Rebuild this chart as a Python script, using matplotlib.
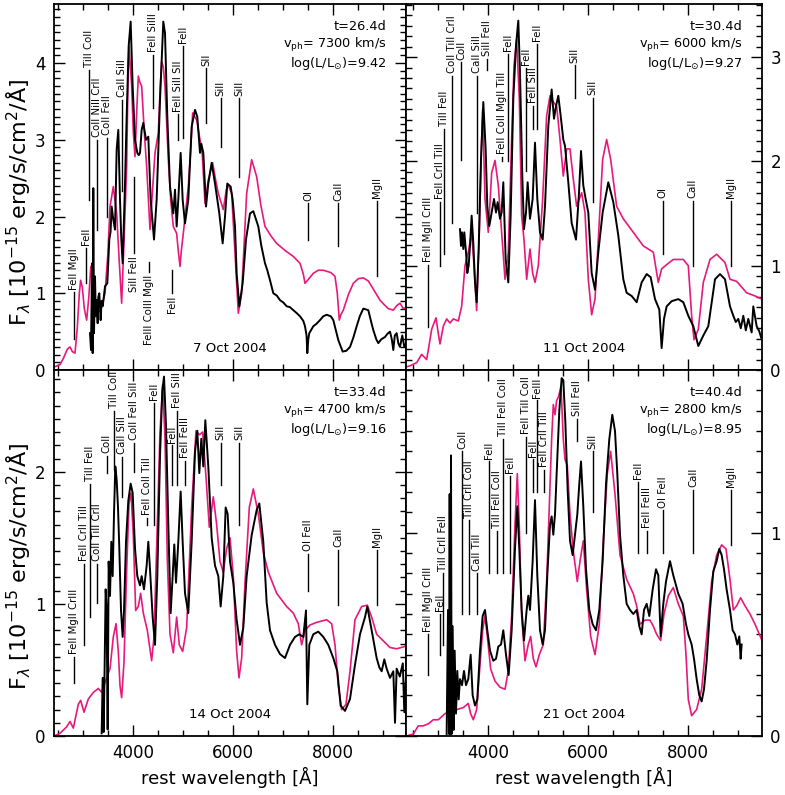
import matplotlib
matplotlib.use("Agg")
import matplotlib.pyplot as plt
from matplotlib.ticker import MultipleLocator

PINK = "#e8197c"

# ---------------- 7 Oct 2004 (t=26.4d) ----------------
oct07_obs_wl = [3134, 3154, 3174, 3187, 3200, 3214, 3234, 3250, 3267, 3287, 3300, 3320, 3347, 3365, 3387,
                3410, 3434, 3480, 3520, 3545, 3567, 3600, 3634, 3667, 3700, 3734, 3760, 3787, 3834, 3867,
                3907, 3947, 3987, 4034, 4060, 4080, 4110, 4134, 4167, 4200, 4254, 4300, 4347, 4414, 4467,
                4534, 4600, 4634, 4680, 4734, 4800, 4834, 4867, 4900, 4947, 4987, 5034, 5100, 5167, 5234,
                5280, 5334, 5360, 5400, 5454, 5500, 5567, 5634, 5720, 5787, 5834, 5880, 5947, 5987, 6034,
                6067, 6120, 6187, 6254, 6334, 6400, 6500, 6560, 6634, 6680, 6734, 6800, 6870, 6934, 7000,
                7067, 7130, 7200, 7270, 7334, 7400, 7434, 7465, 7480, 7500, 7520, 7600, 7660, 7734, 7800,
                7867, 7950, 8000, 8100, 8187, 8260, 8334, 8400, 8467, 8530, 8600, 8700, 8760, 8800, 8860,
                8900, 8960, 9034, 9080, 9134, 9170, 9200, 9230, 9267, 9300, 9334, 9380, 9420, 9460]
oct07_obs_f = [0.48, 0.26, 1.39, 0.22, 2.37, 0.48, 1.22, 0.70, 0.91, 0.61, 0.95, 1.00, 0.65, 0.90, 0.83,
               0.95, 1.09, 1.13, 1.70, 1.80, 2.13, 1.96, 1.83, 2.87, 3.13, 2.22, 1.70, 1.39, 2.43, 3.30,
               4.22, 4.54, 3.70, 3.00, 2.90, 2.83, 2.80, 2.83, 3.13, 3.22, 3.00, 3.04, 2.22, 1.70, 2.22,
               3.52, 4.54, 4.39, 3.30, 2.39, 2.04, 2.35, 1.87, 2.22, 2.83, 2.22, 1.91, 2.22, 3.17, 3.39,
               3.30, 2.83, 2.95, 2.83, 2.13, 2.43, 2.70, 2.43, 2.04, 1.65, 2.00, 2.43, 2.39, 2.22, 1.87,
               1.26, 0.83, 1.13, 1.70, 2.04, 2.07, 1.87, 1.62, 1.39, 1.30, 1.17, 1.00, 0.97, 0.91, 0.88,
               0.83, 0.82, 0.78, 0.74, 0.70, 0.64, 0.57, 0.45, 0.22, 0.40, 0.48, 0.57, 0.60, 0.65, 0.70,
               0.72, 0.70, 0.65, 0.39, 0.24, 0.25, 0.30, 0.42, 0.57, 0.70, 0.80, 0.78, 0.62, 0.52, 0.40,
               0.35, 0.40, 0.43, 0.47, 0.50, 0.40, 0.26, 0.45, 0.48, 0.35, 0.30, 0.45, 0.30, 0.35]
oct07_mod_wl = [2420, 2534, 2600, 2680, 2734, 2780, 2834, 2880, 2920, 2947, 2980, 3020, 3067, 3110, 3150,
                3190, 3230, 3267, 3334, 3390, 3434, 3490, 3534, 3600, 3667, 3720, 3767, 3810, 3867, 3890,
                3914, 3967, 4000, 4034, 4070, 4100, 4130, 4167, 4220, 4267, 4334, 4380, 4434, 4500, 4540,
                4567, 4600, 4634, 4700, 4750, 4800, 4867, 4900, 4934, 4960, 5000, 5100, 5150, 5187, 5230,
                5267, 5334, 5380, 5434, 5500, 5587, 5640, 5700, 5800, 5860, 5900, 5967, 6034, 6100, 6167,
                6267, 6367, 6467, 6550, 6634, 6750, 6867, 7050, 7200, 7334, 7400, 7434, 7500, 7600, 7700,
                7800, 7950, 8034, 8080, 8120, 8150, 8200, 8300, 8400, 8500, 8600, 8700, 8767, 8850, 8934,
                9020, 9100, 9200, 9270, 9334, 9400, 9460]
oct07_mod_f = [0.04, 0.07, 0.15, 0.27, 0.30, 0.24, 0.22, 0.55, 1.00, 1.17, 1.08, 0.80, 0.65, 0.95, 1.35,
               1.20, 0.90, 0.78, 0.76, 0.88, 1.00, 1.50, 2.13, 2.39, 2.04, 1.40, 0.87, 1.60, 2.65, 3.60,
               4.22, 3.70, 3.10, 2.78, 3.40, 3.83, 3.75, 3.70, 3.10, 2.65, 1.83, 2.30, 2.83, 3.09, 3.70,
               4.02, 3.95, 3.70, 2.74, 2.20, 1.87, 1.78, 1.55, 1.35, 1.55, 1.78, 2.39, 2.90, 3.35, 3.30,
               3.26, 3.00, 2.80, 2.17, 2.48, 2.70, 2.50, 2.30, 2.09, 2.35, 2.41, 2.30, 1.52, 0.74, 1.00,
               2.30, 2.74, 2.52, 2.15, 1.87, 1.75, 1.65, 1.55, 1.48, 1.39, 1.25, 1.13, 1.18, 1.26, 1.30,
               1.30, 1.27, 1.22, 1.00, 0.65, 0.72, 0.78, 0.98, 1.13, 1.19, 1.20, 1.16, 1.09, 1.00, 0.91,
               0.85, 0.80, 0.78, 0.84, 0.87, 0.80, 0.82]
# (label, wavelength, lower end, upper end, text side)
oct07_ids = [("FeII MgII", 2814, 0.41, 1.01, "up"), ("FeII", 3054, 1.13, 1.59, "up"),
             ("TiII CoII", 3121, 2.22, 3.91, "up"), ("CoII NiII CrII", 3274, 1.83, 3.00, "up"),
             ("CoII FeII", 3467, 2.00, 3.02, "up"), ("CaII SiII", 3781, 2.33, 3.52, "up"),
             ("FeII SiIII", 4401, 3.41, 4.11, "up"), ("FeII SiII SII", 4887, 3.00, 3.33, "up"),
             ("FeII", 5001, 3.02, 4.22, "up"), ("SII", 5454, 3.22, 3.93, "up"),
             ("SiII", 5747, 2.91, 3.54, "up"), ("SiII", 6114, 2.52, 3.54, "up"),
             ("OI", 7501, 1.70, 2.17, "up"), ("CaII", 8101, 1.61, 2.17, "up"),
             ("MgII", 8868, 1.22, 2.20, "up"),
             ("SiII FeII", 4014, 1.52, 2.52, "down"), ("FeIII CoIII MgII", 4321, 1.28, 1.41, "down"),
             ("FeII", 4781, 1.00, 1.30, "down")]

# ---------------- 11 Oct 2004 (t=30.4d) ----------------
oct11_obs_wl = [3434, 3454, 3474, 3500, 3520, 3554, 3580, 3607, 3634, 3667, 3700, 3734, 3767, 3807, 3854,
                3900, 3947, 3980, 4020, 4067, 4114, 4154, 4187, 4234, 4267, 4300, 4347, 4400, 4447, 4500,
                4554, 4600, 4634, 4680, 4714, 4754, 4787, 4834, 4887, 4934, 4980, 5034, 5087, 5134, 5200,
                5267, 5314, 5354, 5400, 5447, 5500, 5534, 5600, 5667, 5754, 5814, 5854, 5900, 5947, 6000,
                6067, 6134, 6200, 6287, 6400, 6500, 6600, 6700, 6767, 6867, 6967, 7067, 7167, 7247, 7334,
                7420, 7467, 7514, 7567, 7667, 7800, 7900, 8000, 8100, 8200, 8300, 8400, 8534, 8634, 8734,
                8834, 8900, 8950, 9000, 9050, 9100, 9150, 9200, 9267, 9300, 9367, 9420, 9470]
oct11_obs_f = [1.35, 1.19, 1.32, 1.16, 1.32, 1.13, 0.93, 1.00, 1.19, 1.48, 1.22, 0.84, 0.65, 1.16, 2.02,
               2.57, 2.12, 1.57, 1.38, 1.51, 1.64, 1.51, 1.61, 1.45, 1.51, 1.80, 1.06, 0.84, 1.48, 2.60,
               3.11, 3.35, 2.85, 1.86, 1.35, 1.51, 1.80, 1.45, 1.64, 2.18, 1.64, 1.32, 1.25, 1.57, 2.34,
               2.69, 2.41, 2.53, 2.63, 2.44, 2.21, 2.15, 1.80, 1.41, 1.25, 1.70, 2.10, 1.77, 1.64, 1.51,
               0.93, 0.77, 1.13, 1.51, 1.80, 1.61, 1.29, 0.87, 0.74, 0.71, 0.65, 0.84, 0.92, 0.89, 0.68,
               0.58, 0.21, 0.49, 0.61, 0.66, 0.68, 0.65, 0.52, 0.42, 0.23, 0.33, 0.42, 0.87, 0.92, 0.87,
               0.61, 0.52, 0.46, 0.49, 0.40, 0.52, 0.38, 0.49, 0.36, 0.61, 0.42, 0.37, 0.29]
oct11_mod_wl = [2360, 2434, 2567, 2667, 2767, 2820, 2867, 2954, 3000, 3034, 3100, 3167, 3234, 3300, 3400,
                3467, 3534, 3600, 3667, 3714, 3767, 3820, 3860, 3887, 3934, 4000, 4067, 4134, 4200, 4267,
                4334, 4400, 4467, 4514, 4567, 4620, 4667, 4714, 4767, 4834, 4887, 4934, 5000, 5087, 5167,
                5234, 5300, 5367, 5434, 5500, 5567, 5634, 5700, 5767, 5867, 5934, 6000, 6067, 6134, 6200,
                6287, 6367, 6447, 6567, 6700, 6900, 7100, 7300, 7400, 7467, 7567, 7700, 7900, 8000, 8067,
                8114, 8200, 8300, 8434, 8567, 8734, 8834, 8967, 9167, 9334, 9470]
oct11_mod_f = [0.03, 0.04, 0.07, 0.15, 0.10, 0.25, 0.39, 0.50, 0.35, 0.25, 0.42, 0.49, 0.45, 0.49, 0.47,
               0.61, 1.00, 1.13, 1.32, 1.00, 0.57, 1.32, 2.10, 2.50, 1.64, 1.32, 1.89, 2.01, 1.77, 1.32,
               0.87, 1.13, 2.21, 2.92, 3.17, 2.60, 1.48, 1.25, 0.87, 1.16, 0.93, 0.84, 1.00, 1.64, 2.44,
               2.63, 2.57, 2.53, 2.21, 1.86, 2.12, 2.12, 1.83, 1.57, 1.70, 1.51, 0.87, 0.53, 0.68, 1.25,
               2.02, 2.21, 2.02, 1.57, 1.45, 1.32, 1.19, 1.13, 0.84, 0.97, 1.01, 1.06, 1.06, 1.00, 0.52,
               0.29, 0.39, 0.84, 1.06, 1.11, 1.03, 0.87, 0.85, 0.74, 0.71, 0.68]
oct11_ids = [("FeII MgII CrIII", 2787, 0.41, 1.01, "up"), ("FeII CrII TiII", 3034, 1.00, 1.61, "up"),
             ("TiII FeII", 3121, 1.11, 2.31, "up"), ("CoII TiII CrII", 3267, 1.41, 2.82, "up"),
             ("CoII", 3454, 2.01, 2.95, "up"), ("CaII SiII", 3767, 1.51, 2.82, "up"),
             ("SiII FeII", 3981, 2.88, 2.98, "up"), ("FeII CoII MgII TiII", 4281, 2.00, 2.04, "up"),
             ("FeII", 4401, 2.00, 3.03, "up"), ("FeII", 4754, 1.91, 2.90, "up"),
             ("FeII SiII", 4887, 2.31, 2.53, "up"), ("FeII", 4981, 2.31, 3.13, "up"),
             ("SiII", 5727, 2.61, 2.92, "up"), ("SiII", 6087, 1.61, 2.61, "up"),
             ("OI", 7487, 1.11, 1.62, "up"), ("CaII", 8087, 1.00, 1.62, "up"),
             ("MgII", 8854, 1.00, 1.62, "up")]

# ---------------- 14 Oct 2004 (t=33.4d) ----------------
oct14_obs_wl = [3367, 3387, 3407, 3427, 3447, 3467, 3487, 3507, 3534, 3560, 3587, 3614, 3640, 3667, 3694,
                3720, 3754, 3787, 3814, 3854, 3900, 3947, 3987, 4034, 4080, 4134, 4167, 4214, 4267, 4300,
                4334, 4387, 4434, 4480, 4534, 4580, 4614, 4654, 4700, 4747, 4787, 4820, 4854, 4900, 4947,
                4987, 5034, 5100, 5167, 5234, 5280, 5320, 5360, 5400, 5440, 5500, 5567, 5634, 5700, 5747,
                5800, 5847, 5887, 5934, 6000, 6067, 6134, 6200, 6267, 6367, 6467, 6520, 6600, 6667, 6734,
                6834, 6934, 7034, 7134, 7234, 7320, 7400, 7454, 7480, 7520, 7600, 7700, 7800, 7900, 8000,
                8080, 8147, 8234, 8334, 8434, 8534, 8634, 8680, 8767, 8867, 8920, 8967, 9020, 9067, 9134,
                9200, 9234, 9267, 9330, 9390, 9420, 9454]
oct14_obs_f = [0.02, 0.44, 0.03, 0.54, 1.11, 0.95, 0.05, 1.32, 1.06, 1.47, 1.21, 1.68, 2.04, 1.94, 1.73,
               1.42, 0.95, 0.75, 0.95, 1.47, 1.78, 1.91, 1.84, 1.42, 1.21, 1.14, 1.21, 1.11, 1.29, 1.47,
               1.26, 0.90, 0.69, 1.21, 2.12, 2.61, 2.72, 2.35, 1.60, 0.93, 1.21, 1.45, 1.16, 1.47, 1.85,
               1.47, 1.08, 0.93, 1.47, 2.15, 2.31, 1.99, 2.25, 2.04, 2.39, 2.04, 1.50, 1.29, 1.21, 0.98,
               1.21, 1.73, 1.68, 1.32, 1.16, 0.88, 0.69, 0.82, 1.21, 1.52, 1.71, 1.76, 1.47, 1.01, 0.80,
               0.69, 0.62, 0.59, 0.69, 0.75, 0.77, 0.75, 0.95, 0.24, 0.69, 0.77, 0.79, 0.75, 0.69, 0.59,
               0.49, 0.23, 0.19, 0.28, 0.54, 0.77, 0.90, 0.98, 0.80, 0.59, 0.52, 0.49, 0.58, 0.51, 0.44,
               0.49, 0.10, 0.51, 0.45, 0.55, 0.18, 0.45]
oct14_mod_wl = [2414, 2534, 2667, 2734, 2800, 2900, 2947, 3014, 3100, 3200, 3300, 3367, 3467, 3534, 3600,
                3654, 3700, 3734, 3767, 3814, 3867, 3914, 3954, 4000, 4047, 4100, 4147, 4200, 4280, 4367,
                4414, 4480, 4534, 4587, 4634, 4680, 4734, 4800, 4867, 4920, 4987, 5067, 5167, 5254, 5320,
                5387, 5454, 5520, 5600, 5667, 5734, 5800, 5867, 5934, 6000, 6067, 6114, 6167, 6234, 6320,
                6400, 6500, 6600, 6700, 6867, 7067, 7200, 7300, 7367, 7434, 7534, 7667, 7867, 7967, 8034,
                8100, 8167, 8254, 8334, 8434, 8567, 8680, 8767, 8867, 9000, 9134, 9267, 9454]
oct14_mod_f = [0.00, 0.02, 0.07, 0.11, 0.06, 0.24, 0.27, 0.18, 0.28, 0.33, 0.36, 0.33, 0.44, 0.51, 0.75,
               0.85, 0.64, 0.38, 0.29, 0.56, 1.26, 1.76, 1.84, 1.52, 0.95, 0.98, 1.08, 0.93, 0.80, 0.57,
               0.75, 1.60, 2.30, 2.66, 2.25, 1.34, 0.77, 0.63, 0.90, 0.69, 0.64, 0.82, 1.73, 2.31, 2.28,
               2.30, 1.96, 1.58, 1.81, 1.60, 1.32, 1.24, 1.42, 1.50, 1.21, 0.64, 0.44, 0.59, 1.16, 1.73,
               1.87, 1.68, 1.39, 1.24, 1.08, 0.98, 0.93, 0.85, 0.69, 0.80, 0.84, 0.86, 0.88, 0.85, 0.69,
               0.38, 0.20, 0.24, 0.49, 0.88, 0.98, 0.99, 0.90, 0.77, 0.72, 0.67, 0.66, 0.68]
oct14_ids = [("FeII MgII CrIII", 2814, 0.40, 0.60, "up"), ("FeII CrII TiII", 3021, 0.69, 1.30, "up"),
             ("TiII FeII", 3134, 0.90, 1.91, "up"), ("CoII TiII CrII", 3267, 1.01, 1.30, "up"),
             ("CoII", 3467, 1.99, 2.12, "up"), ("TiII CoII", 3620, 2.02, 2.46, "up"),
             ("CaII SiII", 3767, 1.81, 2.11, "up"), ("CoII FeII SiII", 4014, 2.00, 2.22, "up"),
             ("FeII CoII TiII", 4280, 1.60, 1.65, "up"), ("FeII", 4414, 1.60, 2.52, "up"),
             ("FeII", 4781, 1.90, 2.20, "up"), ("FeII SiII", 4881, 1.90, 2.46, "up"),
             ("FeII FeIII", 5034, 1.90, 2.08, "up"), ("SiII", 5747, 1.90, 2.22, "up"),
             ("SiII", 6114, 1.60, 2.22, "up"), ("OI FeII", 7501, 1.10, 1.38, "up"),
             ("CaII", 8101, 0.99, 1.41, "up"), ("MgII", 8868, 0.99, 1.41, "up")]

# ---------------- 21 Oct 2004 (t=40.4d) ----------------
oct21_obs_wl = [3167, 3194, 3214, 3227, 3240, 3254, 3267, 3287, 3307, 3327, 3354, 3380, 3407, 3434, 3474,
                3514, 3554, 3600, 3647, 3687, 3734, 3780, 3834, 3887, 3934, 3980, 4034, 4100, 4154, 4200,
                4254, 4300, 4354, 4407, 4467, 4534, 4580, 4620, 4667, 4714, 4767, 4800, 4834, 4887, 4934,
                4980, 5034, 5087, 5134, 5180, 5234, 5267, 5300, 5334, 5367, 5420, 5467, 5500, 5540, 5587,
                5634, 5687, 5734, 5780, 5820, 5854, 5900, 5954, 6020, 6087, 6154, 6220, 6287, 6354, 6420,
                6480, 6534, 6580, 6634, 6700, 6767, 6834, 6900, 6967, 7020, 7067, 7114, 7167, 7220, 7287,
                7354, 7400, 7447, 7500, 7554, 7634, 7700, 7800, 7887, 7954, 8000, 8067, 8114, 8167, 8220,
                8267, 8314, 8367, 8434, 8500, 8567, 8620, 8667, 8714, 8767, 8834, 8887, 8934, 8980, 9020,
                9047, 9067]
oct21_obs_f = [0.01, 0.62, 0.01, 1.19, 0.01, 1.38, 0.01, 0.54, 0.03, 0.42, 0.11, 0.32, 0.18, 0.28, 0.25,
               0.32, 0.25, 0.28, 0.40, 0.20, 0.15, 0.18, 0.42, 0.59, 0.62, 0.52, 0.42, 0.37, 0.38, 0.44,
               0.45, 0.52, 0.40, 0.30, 0.52, 0.92, 1.13, 0.92, 0.62, 0.47, 0.62, 0.69, 0.62, 0.86, 1.16,
               0.79, 0.52, 0.45, 0.52, 0.79, 1.04, 1.08, 0.99, 1.09, 1.29, 1.60, 1.76, 1.75, 1.55, 1.21,
               0.96, 0.89, 0.99, 1.09, 1.24, 1.35, 1.13, 0.82, 0.62, 0.55, 0.52, 0.62, 0.86, 1.24, 1.46,
               1.58, 1.50, 1.29, 0.99, 0.79, 0.65, 0.62, 0.60, 0.62, 0.54, 0.50, 0.62, 0.65, 0.59, 0.72,
               0.82, 0.79, 0.49, 0.65, 0.76, 0.86, 0.79, 0.70, 0.65, 0.55, 0.50, 0.45, 0.38, 0.28, 0.20,
               0.17, 0.23, 0.37, 0.62, 0.81, 0.86, 0.92, 0.89, 0.82, 0.72, 0.62, 0.52, 0.50, 0.45, 0.49,
               0.38, 0.45]
oct21_mod_wl = [2360, 2500, 2600, 2700, 2800, 2900, 3000, 3134, 3234, 3367, 3500, 3600, 3647, 3700, 3767,
                3834, 3887, 3934, 3980, 4047, 4134, 4234, 4334, 4400, 4467, 4534, 4580, 4620, 4667, 4734,
                4800, 4847, 4900, 4954, 5020, 5100, 5167, 5220, 5267, 5300, 5334, 5367, 5407, 5454, 5500,
                5534, 5580, 5634, 5700, 5780, 5834, 5900, 5967, 6047, 6134, 6220, 6300, 6380, 6447, 6534,
                6634, 6767, 6900, 6967, 7034, 7134, 7234, 7300, 7367, 7447, 7514, 7600, 7700, 7800, 7900,
                7954, 8000, 8067, 8167, 8267, 8367, 8467, 8567, 8667, 8754, 8834, 8900, 8967, 9047, 9134,
                9234, 9334, 9474]
oct21_mod_f = [0.00, 0.01, 0.05, 0.05, 0.06, 0.08, 0.08, 0.11, 0.12, 0.13, 0.14, 0.16, 0.11, 0.08, 0.13,
               0.35, 0.52, 0.59, 0.49, 0.33, 0.27, 0.24, 0.23, 0.32, 0.59, 1.04, 1.29, 1.03, 0.59, 0.37,
               0.45, 0.49, 0.38, 0.34, 0.40, 0.45, 0.76, 1.13, 1.46, 1.63, 1.58, 1.65, 1.67, 1.72, 1.46,
               1.36, 1.33, 1.09, 0.91, 0.76, 0.86, 0.96, 0.72, 0.49, 0.40, 0.55, 0.96, 1.29, 1.40, 1.19,
               0.89, 0.77, 0.70, 0.64, 0.55, 0.57, 0.57, 0.54, 0.50, 0.47, 0.60, 0.69, 0.73, 0.65, 0.59,
               0.40, 0.18, 0.10, 0.13, 0.23, 0.49, 0.76, 0.89, 0.94, 0.92, 0.77, 0.62, 0.64, 0.68, 0.64,
               0.60, 0.55, 0.47]
oct21_ids = [("FeII MgII CrIII", 2787, 0.30, 0.50, "up"), ("FeII", 3034, 0.40, 0.60, "up"),
             ("TiII CrII FeII", 3101, 0.45, 0.80, "up"), ("CoII", 3481, 0.60, 1.40, "up"),
             ("TiII CrII CoII", 3614, 0.60, 1.06, "up"), ("CaII TiII", 3767, 0.60, 0.80, "up"),
             ("FeII", 4021, 0.80, 1.35, "up"), ("TiII FeII CoII", 4167, 0.80, 1.01, "up"),
             ("TiII FeII CoII", 4287, 0.80, 1.46, "up"), ("FeII", 4434, 0.80, 1.28, "up"),
             ("FeII TiII CoII", 4754, 1.00, 1.47, "up"), ("FeII", 4887, 1.20, 1.36, "up"),
             ("FeIII", 4967, 1.20, 1.65, "up"), ("FeII CrII TiII", 5114, 1.20, 1.31, "up"),
             ("SiII FeII", 5781, 1.45, 1.56, "up"), ("SiII", 6087, 1.10, 1.40, "up"),
             ("FeII", 6987, 0.90, 1.25, "up"), ("FeII FeIII", 7181, 0.90, 1.01, "up"),
             ("OI FeII", 7487, 0.90, 1.11, "up"), ("CaII", 8101, 0.90, 1.21, "up"),
             ("MgII", 8854, 0.94, 1.21, "up")]

panels = [
    dict(obs=(oct07_obs_wl, oct07_obs_f), mod=(oct07_mod_wl, oct07_mod_f), ids=oct07_ids,
         t="26.4", v="7300", L="9.42", date="7 Oct 2004"),
    dict(obs=(oct11_obs_wl, oct11_obs_f), mod=(oct11_mod_wl, oct11_mod_f), ids=oct11_ids,
         t="30.4", v="6000", L="9.27", date="11 Oct 2004"),
    dict(obs=(oct14_obs_wl, oct14_obs_f), mod=(oct14_mod_wl, oct14_mod_f), ids=oct14_ids,
         t="33.4", v="4700", L="9.16", date="14 Oct 2004"),
    dict(obs=(oct21_obs_wl, oct21_obs_f), mod=(oct21_mod_wl, oct21_mod_f), ids=oct21_ids,
         t="40.4", v="2800", L="8.95", date="21 Oct 2004"),
]

# axes boxes in figure fraction and limits
boxes = [[0.0688, 0.5346, 0.4484, 0.4604], [0.5172, 0.5346, 0.4535, 0.4604],
         [0.0688, 0.0742, 0.4484, 0.4604], [0.5172, 0.0742, 0.4535, 0.4604]]
xlims = [(2414, 9454), (2354, 9474), (2414, 9454), (2354, 9474)]
ylims = [(0, 4.77), (0, 3.51), (0, 2.77), (0, 1.80)]

fig = plt.figure(figsize=(7.85, 7.95), dpi=100)

for i, p in enumerate(panels):
    ax = fig.add_axes(boxes[i])
    ax.plot(*p["mod"], color=PINK, lw=1.2, zorder=2)
    ax.plot(*p["obs"], color="black", lw=1.4, zorder=3)

    for name, wl, lo, hi, side in p["ids"]:
        ax.plot([wl, wl], [lo, hi], color="black", lw=1.0, zorder=4)
        if side == "up":
            ax.annotate(name, (wl, hi), xytext=(0, 2), textcoords="offset points",
                        rotation=90, ha="center", va="bottom", fontsize=7.3)
        else:
            ax.annotate(name, (wl, lo), xytext=(0, -2), textcoords="offset points",
                        rotation=90, ha="center", va="top", fontsize=7.3)

    # model parameters, top right
    ax.text(0.945, 0.938, "t=%sd" % p["t"], transform=ax.transAxes, ha="right", va="center", fontsize=9.3)
    ax.text(0.945, 0.888, r"v$_{\rm ph}$= %s km/s" % p["v"], transform=ax.transAxes,
            ha="right", va="center", fontsize=9.3)
    ax.text(0.945, 0.838, r"log(L/L$_{\odot}$)=%s" % p["L"], transform=ax.transAxes,
            ha="right", va="center", fontsize=9.3)
    ax.text(0.5, 0.06, p["date"], transform=ax.transAxes, ha="center", va="center", fontsize=9.5)

    ax.set_xlim(*xlims[i])
    ax.set_ylim(*ylims[i])
    ax.xaxis.set_major_locator(MultipleLocator(2000))
    ax.xaxis.set_minor_locator(MultipleLocator(500))
    ax.yaxis.set_major_locator(MultipleLocator(1))
    ax.yaxis.set_minor_locator(MultipleLocator(0.1))
    ax.tick_params(which="both", direction="in", top=True, right=True, width=1.0, labelsize=12)
    ax.tick_params(which="major", length=8, pad=6)
    ax.tick_params(which="minor", length=4)
    for s in ax.spines.values():
        s.set_linewidth(1.3)

    left = i % 2 == 0
    bottom = i >= 2
    ax.tick_params(labelbottom=bottom, labelleft=left, labelright=not left)
    if bottom:
        ax.set_xlabel("rest wavelength [Å]", fontsize=13, labelpad=3)

ylab = r"F$_\lambda$ [10$^{-15}$ erg/s/cm$^2$/Å]"
fig.text(0.024, 0.745, ylab, rotation=90, ha="center", va="center", fontsize=16)
fig.text(0.024, 0.287, ylab, rotation=90, ha="center", va="center", fontsize=16)

fig.savefig("out.png", dpi=100)
